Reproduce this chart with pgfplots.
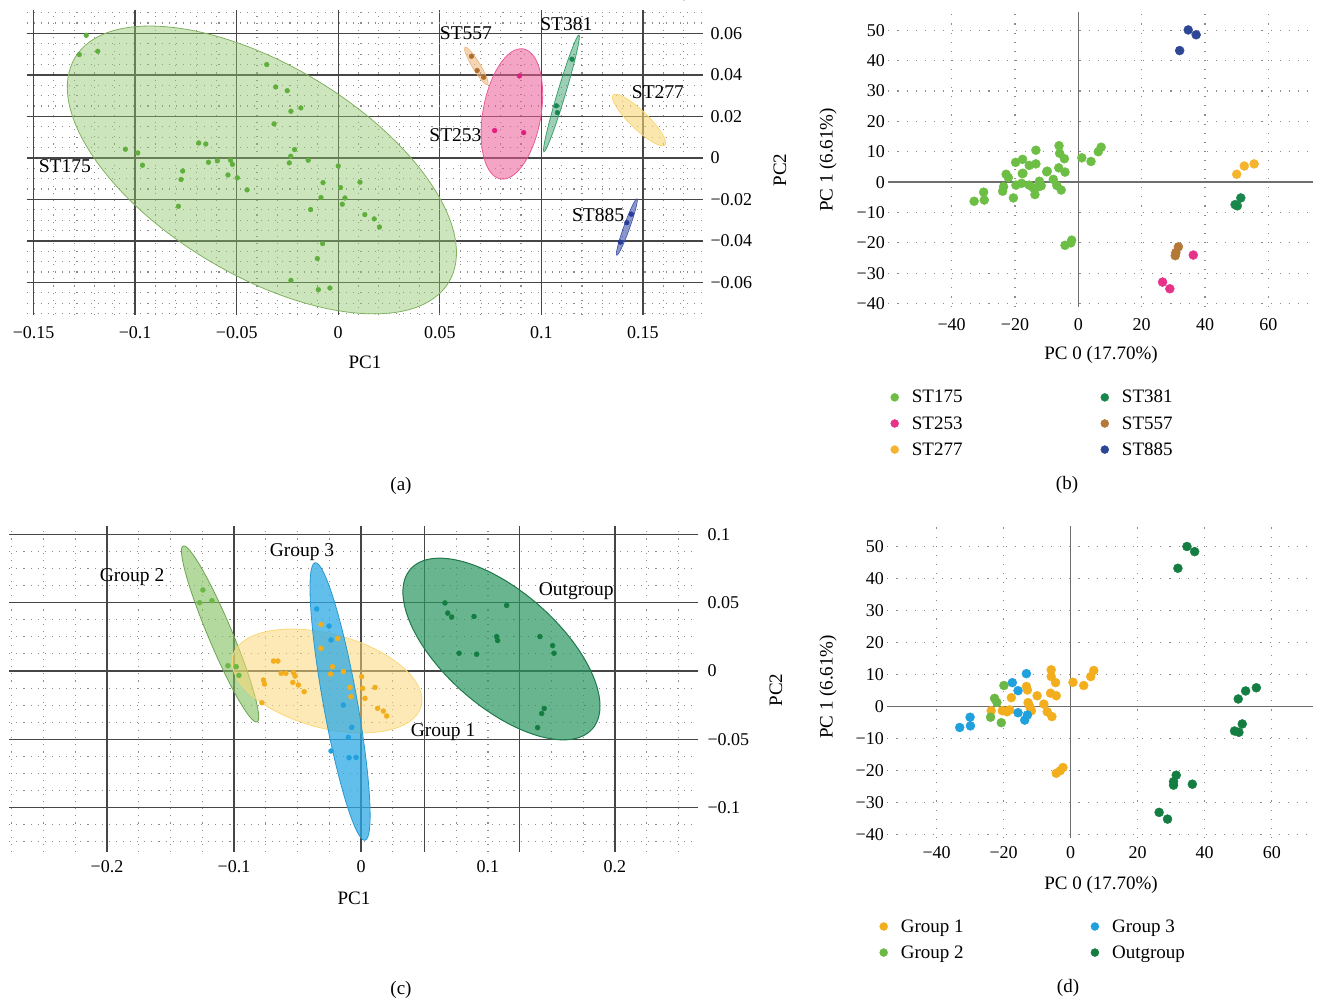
\documentclass[border=0pt]{standalone}
\usepackage{fontspec}
\setmainfont{Liberation Serif}
\usepackage{pgfplots}
\pgfplotsset{compat=1.18}

\definecolor{gridmaj}{RGB}{70,70,70}
\definecolor{griddot}{RGB}{140,140,140}
\definecolor{axln}{RGB}{110,110,110}
% panel b colours
\definecolor{cST175}{RGB}{108,190,69}
\definecolor{cST253}{RGB}{230,50,137}
\definecolor{cST277}{RGB}{245,180,45}
\definecolor{cST381}{RGB}{25,135,75}
\definecolor{cST557}{RGB}{180,120,55}
\definecolor{cST885}{RGB}{45,70,150}
% panel a colours
\definecolor{aG}{RGB}{95,175,60}
\definecolor{aGf}{RGB}{145,198,108}
\definecolor{aP}{RGB}{225,30,125}
\definecolor{aPf}{RGB}{235,90,150}
\definecolor{aT}{RGB}{25,135,80}
\definecolor{aTf}{RGB}{60,160,110}
\definecolor{aB}{RGB}{175,110,45}
\definecolor{aBf}{RGB}{235,180,120}
\definecolor{aYf}{RGB}{248,215,120}
\definecolor{aN}{RGB}{40,60,150}
\definecolor{aNf}{RGB}{60,80,170}
% groups
\definecolor{cG1}{RGB}{243,174,30}
\definecolor{cG2}{RGB}{108,184,70}
\definecolor{cG3}{RGB}{32,160,220}
\definecolor{cOut}{RGB}{20,125,65}
\definecolor{fG1}{RGB}{250,215,120}
\definecolor{fG2}{RGB}{130,192,95}
\definecolor{fG3}{RGB}{45,170,230}
\definecolor{fOut}{RGB}{40,150,95}

\newcommand{\pcaell}[7]{\draw[#1, rotate around={#7:(axis cs:#3,#4)}] (axis cs:#3,#4) ellipse [x radius=#5pt, y radius=#6pt];}

\tikzset{lab/.style={font=\fontsize{19.5}{22}\selectfont}}
\pgfplotsset{
  base/.style={scale only axis, anchor=south west, axis line style={draw=none},
    tick style={draw=none}, clip=false,
    tick label style={font=\fontsize{18}{21}\selectfont}},
  gridA/.style={xmajorgrids, ymajorgrids, xminorgrids, yminorgrids,
    major grid style={draw=gridmaj, line width=1.4pt},
    minor grid style={draw=griddot, line width=1.1pt, dash pattern=on 1.1pt off 6pt}},
  gridB/.style={xmajorgrids, ymajorgrids,
    major grid style={draw=griddot, line width=1.1pt, dash pattern=on 1.1pt off 8pt},
    extra x ticks={0}, extra x tick labels={},
    extra x tick style={major grid style={draw=axln, line width=1.5pt, solid}},
    extra y ticks={0}, extra y tick labels={},
    extra y tick style={major grid style={draw=axln, line width=1.5pt, solid}}},
  dots/.style={only marks, mark=*, mark size=#1},
}

\begin{document}
\begin{tikzpicture}
\useasboundingbox (0pt,0pt) rectangle (1317pt,1003pt);

%================ (a) =================
\begin{axis}[base, gridA, at={(26.7pt,688pt)}, width=676.3pt, height=305pt,
  xmin=-0.1534, xmax=0.1796, ymin=-0.0757, ymax=0.0713,
  xtick={-0.15,-0.1,-0.05,0,0.05,0.1,0.15},
  xticklabels={−0.15,−0.1,−0.05,0,0.05,0.1,0.15},
  ytick={-0.06,-0.04,-0.02,0,0.02,0.04,0.06},
  yticklabels={−0.06,−0.04,−0.02,0,0.02,0.04,0.06},
  minor xtick={-0.15,-0.14,...,0.1705},
  minor ytick={-0.075,-0.07,...,0.0705},
  yticklabel pos=right,
  xticklabel style={yshift=-8pt}, yticklabel style={xshift=4pt}]
\pcaell{draw=aGf!90!black, line width=0.8pt, fill=aGf, fill opacity=0.45}{}{-0.0376}{-0.0058}{218}{105}{-31}
\pcaell{draw=aPf, line width=0.8pt, fill=aPf, fill opacity=0.55}{}{0.0855}{0.0212}{66}{29}{80}
\pcaell{draw=aTf, line width=0.8pt, fill=aTf, fill opacity=0.5}{}{0.1099}{0.0311}{61}{4}{73.3}
\pcaell{draw=aBf, line width=0.6pt, fill=aBf, fill opacity=0.55}{}{0.0680}{0.0443}{22}{4}{-58.8}
\pcaell{draw=aYf, line width=0.8pt, fill=aYf, fill opacity=0.6}{}{0.1481}{0.0183}{36}{9}{-44}
\pcaell{draw=aNf, line width=0.6pt, fill=aNf, fill opacity=0.6}{}{0.1421}{-0.0333}{30}{3}{70.3}
\addplot[dots=2.4pt, color=aG] coordinates {
(-0.1241,0.0591) (-0.1275,0.0498) (-0.1184,0.0514) (-0.0352,0.0450) (-0.0308,0.0342)
(-0.0251,0.0324) (-0.0233,0.0225) (-0.0184,0.0241) (-0.0316,0.0164) (-0.1048,0.0042)
(-0.0987,0.0024) (-0.0964,-0.0035) (-0.0687,0.0072) (-0.0652,0.0067) (-0.0639,-0.0021)
(-0.0595,-0.0014) (-0.0530,-0.0011) (-0.0521,-0.0031) (-0.0543,-0.0082) (-0.0497,-0.0096)
(-0.0766,-0.0063) (-0.0774,-0.0104) (-0.0449,-0.0154) (-0.0787,-0.0233) (-0.0215,0.0040)
(-0.0234,0.0008) (-0.0241,-0.0024) (-0.0148,-0.0011) (0.0000,-0.0039) (-0.0075,-0.0119)
(-0.0085,-0.0191) (-0.0136,-0.0249) (0.0011,-0.0143) (0.0033,-0.0193) (0.0020,-0.0223)
(0.0107,-0.0117) (0.0131,-0.0273) (0.0177,-0.0294) (0.0203,-0.0333) (-0.0077,-0.0413)
(-0.0103,-0.0485) (-0.0233,-0.0590) (-0.0098,-0.0635) (-0.0041,-0.0627)};
\addplot[dots=2.4pt, color=aB] coordinates {(0.0656,0.0490) (0.0684,0.0421) (0.0716,0.0389)};
\addplot[dots=2.4pt, color=aP] coordinates {(0.0892,0.0395) (0.0770,0.0132) (0.0913,0.0122)};
\addplot[dots=2.4pt, color=aT] coordinates {(0.1151,0.0476) (0.1074,0.0251) (0.1079,0.0218)};
\addplot[dots=2.4pt, color=aN] coordinates {(0.1443,-0.0271) (0.1421,-0.0312) (0.1389,-0.0406)};
\node[lab] at (axis cs:-0.1346,-0.0042) {ST175};
\node[lab] at (axis cs:0.0629,0.0601) {ST557};
\node[lab] at (axis cs:0.1123,0.0646) {ST381};
\node[lab] at (axis cs:0.1574,0.0315) {ST277};
\node[lab] at (axis cs:0.0577,0.0111) {ST253};
\node[lab] at (axis cs:0.1279,-0.0275) {ST885};
\end{axis}

%================ (b) =================
\begin{axis}[base, gridB, at={(888.3pt,696.3pt)}, width=425pt, height=295pt,
  xmin=-60, xmax=74.2, ymin=-41, ymax=56.1,
  xtick={-40,-20,0,20,40,60}, xticklabels={−40,−20,0,20,40,60},
  ytick={-40,-30,-20,-10,0,10,20,30,40,50},
  yticklabels={−40,−30,−20,−10,0,10,20,30,40,50},
  xticklabel style={yshift=-8pt},
  legend columns=2, legend cell align=left,
  legend image code/.code={\fill[#1] (0pt,0pt) circle (4pt);},
  legend style={draw=none, fill=none, inner sep=0pt, at={(axis description cs:0.0047,-0.276)},
    anchor=north west, font=\fontsize{19}{22}\selectfont, row sep=8pt,
    /tikz/every odd column/.append style={column sep=11pt},
    /tikz/every even column/.append style={column sep=136pt}}]
\addplot[dots=4.5pt, color=cST175] coordinates {
(-32.9,-6.3) (-29.9,-3.3) (-29.7,-5.9) (-23.9,-3.0) (-23.6,-1.5) (-22.8,2.6) (-22.1,1.5)
(-20.5,-5.2) (-19.8,6.5) (-17.6,7.5) (-17.5,2.9) (-19.7,-1.0) (-17.9,-0.4) (-15.5,5.5)
(-13.4,10.5) (-13.4,6.0) (-15.5,-1.0) (-14.2,-1.9) (-13.7,-4.1) (-12.3,0.3) (-12.5,-1.5)
(-9.8,3.6) (-7.9,0.9) (-6.8,-1.1) (-5.4,-2.6) (-6.1,12.0) (-5.9,9.5) (-4.4,7.7) (-6.2,4.7)
(-4.2,3.3) (1.1,8.0) (4.0,6.8) (6.3,10.0) (7.2,11.5) (-4.2,-20.8) (-2.1,-19.1) (-2.4,-20.0)
(-10.0,3.4) (-11.7,-1.2) (-17.7,2.8)};
\addlegendentry{ST175}
\addplot[dots=4.5pt, color=cST381] coordinates {(51.3,-5.2) (49.5,-7.4) (50.2,-7.8)};
\addlegendentry{ST381}
\addplot[dots=4.5pt, color=cST253] coordinates {(36.3,-24.0) (26.6,-32.9) (28.9,-35.1)};
\addlegendentry{ST253}
\addplot[dots=4.5pt, color=cST557] coordinates {(31.6,-21.3) (30.8,-23.2) (30.6,-24.2)};
\addlegendentry{ST557}
\addplot[dots=4.5pt, color=cST277] coordinates {(50.0,2.6) (52.4,5.3) (55.5,6.0)};
\addlegendentry{ST277}
\addplot[dots=4.5pt, color=cST885] coordinates {(34.7,50.1) (37.2,48.5) (32.0,43.3)};
\addlegendentry{ST885}
\end{axis}

%================ (c) =================
\begin{axis}[base, gridA, at={(9.3pt,151pt)}, width=688.7pt, height=326pt,
  xmin=-0.277, xmax=0.2654, ymin=-0.1324, ymax=0.1061,
  xtick={-0.2,-0.1,0,0.1,0.2}, xticklabels={−0.2,−0.1,0,0.1,0.2},
  xmajorgrids=false,
  extra x ticks={-0.2,-0.1,0,0.05,0.125,0.2}, extra x tick labels={},
  extra x tick style={xmajorgrids=true},
  ytick={-0.1,-0.05,0,0.05,0.1}, yticklabels={−0.1,−0.05,0,0.05,0.1},
  minor xtick={-0.275,-0.25,...,0.2505},
  minor ytick={-0.125,-0.1125,...,0.1005},
  yticklabel pos=right,
  xticklabel style={yshift=-5pt}, yticklabel style={xshift=6pt}]
\pcaell{draw=fG2!85!black, line width=0.8pt, fill=fG2, fill opacity=0.6}{}{-0.1110}{0.0271}{95.5}{12}{-67.2}
\pcaell{draw=fG1, line width=0.8pt, fill=fG1, fill opacity=0.55}{}{-0.0268}{-0.0073}{97.5}{47}{-15}
\pcaell{draw=fG3!90!black, line width=0.8pt, fill=fG3, fill opacity=0.75}{}{-0.0165}{-0.0223}{141}{17}{-79.8}
\pcaell{draw=fOut!80!black, line width=1pt, fill=fOut, fill opacity=0.7}{}{0.1106}{0.0161}{121}{57.6}{-41.3}
\addplot[dots=2.5pt, color=cG2] coordinates {
(-0.1245,0.0593) (-0.1271,0.0500) (-0.1174,0.0515) (-0.1048,0.0039) (-0.0983,0.0032) (-0.0962,-0.0032)};
\addplot[dots=2.5pt, color=cG1] coordinates {
(-0.0689,0.0073) (-0.0655,0.0073) (-0.0629,-0.0017) (-0.0592,-0.0017) (-0.0532,-0.0012)
(-0.0519,-0.0037) (-0.0537,-0.0083) (-0.0493,-0.0102) (-0.0448,-0.0151) (-0.0768,-0.0066)
(-0.0760,-0.0095) (-0.0781,-0.0232) (-0.0315,0.0341) (-0.0183,0.0239) (-0.0315,0.0166)
(-0.0225,0.0032) (-0.0239,-0.0022) (-0.0139,-0.0005) (0.0005,-0.0041) (-0.0087,-0.0120)
(0.0013,-0.0127) (-0.0079,-0.0188) (0.0031,-0.0200) (0.0110,-0.0120) (0.0131,-0.0273)
(0.0176,-0.0293) (0.0202,-0.0329)};
\addplot[dots=2.5pt, color=cG3] coordinates {
(-0.0349,0.0454) (-0.0252,0.0329) (-0.0236,0.0227) (-0.0139,-0.0249) (-0.0073,-0.0412)
(-0.0100,-0.0485) (-0.0039,-0.0632) (-0.0094,-0.0634) (-0.0236,-0.0585)};
\addplot[dots=2.5pt, color=cOut] coordinates {
(0.0661,0.0498) (0.0683,0.0424) (0.0714,0.0395) (0.0890,0.0399) (0.1147,0.0480)
(0.1068,0.0252) (0.1076,0.0223) (0.0772,0.0130) (0.0911,0.0123) (0.1409,0.0252)
(0.1509,0.0186) (0.1520,0.0130) (0.1443,-0.0274) (0.1423,-0.0311) (0.1391,-0.0414)};
\node[lab] at (axis cs:-0.1803,0.0688) {Group 2};
\node[lab] at (axis cs:-0.0465,0.0873) {Group 3};
\node[lab] at (axis cs:0.1695,0.0585) {Outgroup};
\node[lab] at (axis cs:0.0646,-0.0444) {Group 1};
\end{axis}

%================ (d) =================
\begin{axis}[base, gridB, at={(887.3pt,165pt)}, width=426pt, height=312pt,
  xmin=-54.7, xmax=72.4, ymin=-41, ymax=56.4,
  xtick={-40,-20,0,20,40,60}, xticklabels={−40,−20,0,20,40,60},
  ytick={-40,-30,-20,-10,0,10,20,30,40,50},
  yticklabels={−40,−30,−20,−10,0,10,20,30,40,50},
  xticklabel style={yshift=-5pt},
  legend columns=2, legend cell align=left,
  legend image code/.code={\fill[#1] (0pt,0pt) circle (4pt);},
  legend style={draw=none, fill=none, inner sep=0pt, at={(axis description cs:-0.0188,-0.254)},
    anchor=north west, font=\fontsize{19}{22}\selectfont, row sep=8pt,
    /tikz/every odd column/.append style={column sep=11pt},
    /tikz/every even column/.append style={column sep=125pt}}]
\addplot[dots=4.5pt, color=cG1] coordinates {
(-5.8,11.5) (-5.8,9.4) (-4.5,7.5) (0.7,7.6) (3.9,6.6) (6.0,9.4) (6.9,11.3) (-6.0,4.2)
(-4.3,3.4) (-10.0,3.4) (-13.2,6.3) (-12.9,5.2) (-17.7,2.8) (-20.4,-1.25) (-19.0,-1.6)
(-18.2,-1.0) (-23.7,-1.25) (-12.2,0) (-12.7,1.25) (-11.7,-1.25) (-8.0,0.8) (-7.0,-1.6)
(-5.6,-3.1) (-4.3,-20.8) (-2.3,-19.0) (-3.1,-20.0)};
\addlegendentry{Group 1}
\addplot[dots=4.5pt, color=cG3] coordinates {
(-33.1,-6.5) (-30.0,-3.3) (-29.9,-6.0) (-13.2,10.3) (-17.4,7.5) (-15.7,5.0) (-15.7,-1.9)
(-13.7,-4.2) (-12.9,-2.6)};
\addlegendentry{Group 3}
\addplot[dots=4.5pt, color=cG2] coordinates {
(-19.9,6.6) (-22.7,2.6) (-22.0,1.3) (-23.9,-3.3) (-20.7,-5.0)};
\addlegendentry{Group 2}
\addplot[dots=4.5pt, color=cOut] coordinates {
(34.7,50.0) (37.0,48.4) (32.0,43.2) (50.0,2.4) (52.2,4.9) (55.4,5.9) (51.2,-5.4) (48.9,-7.6)
(50.2,-8.0) (31.5,-21.4) (30.7,-23.4) (30.7,-24.5) (36.3,-24.2) (26.4,-33.0) (28.9,-35.1)};
\addlegendentry{Outgroup}
\end{axis}

%================ labels =================
\begin{scope}[every node/.style={font=\fontsize{19}{22}\selectfont}]
\node at (365pt,641pt) {PC1};
\node[rotate=90] at (780pt,833pt) {PC2};
\node at (401pt,517pt) {(a)};
\node[rotate=90] at (828pt,843pt) {PC 1 (6.61\%)};
\node at (1101pt,648pt) {PC 0 (17.70\%)};
\node at (1067pt,518pt) {(b)};
\node at (354pt,105pt) {PC1};
\node[rotate=90] at (776pt,313pt) {PC2};
\node at (401pt,13pt) {(c)};
\node[rotate=90] at (828pt,316pt) {PC 1 (6.61\%)};
\node at (1101pt,118pt) {PC 0 (17.70\%)};
\node at (1068pt,15pt) {(d)};
\end{scope}
\end{tikzpicture}
\end{document}
